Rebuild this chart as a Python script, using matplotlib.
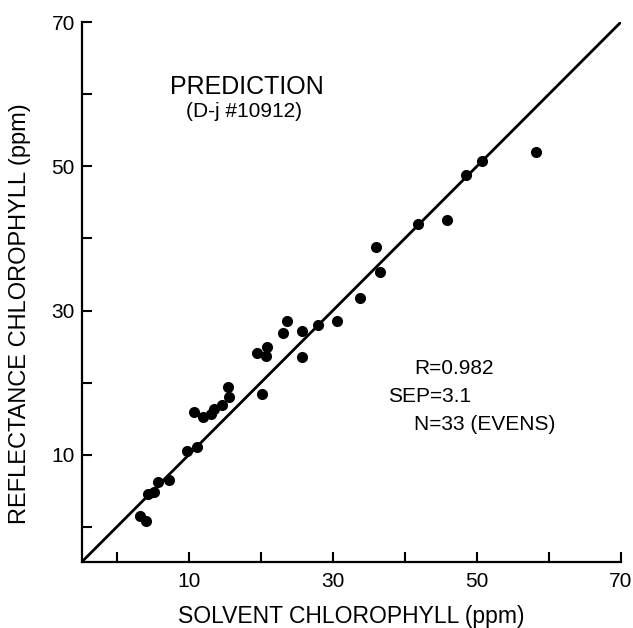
import matplotlib
matplotlib.use("Agg")
import matplotlib.pyplot as plt

plt.rcParams['font.family'] = ['Liberation Sans', 'DejaVu Sans']

# solvent vs reflectance chlorophyll (ppm)
solvent = [3.2, 4.1, 4.4, 5.2, 5.8, 7.2, 9.7, 11.1, 10.7, 12.0, 13.1,
           13.5, 14.6, 15.6, 15.5, 20.2, 19.5, 20.8, 20.7, 23.1, 23.7,
           25.7, 25.7, 28.0, 30.6, 33.8, 36.0, 36.5, 41.8, 45.8, 48.5,
           50.7, 58.2]
reflectance = [1.5, 0.8, 4.6, 4.9, 6.2, 6.5, 10.5, 11.1, 16.0, 15.2, 15.6,
               16.4, 16.9, 18.0, 19.4, 18.4, 24.1, 24.9, 23.7, 26.9, 28.6,
               27.1, 23.5, 28.0, 28.6, 31.8, 38.8, 35.4, 42.0, 42.5, 48.8,
               50.8, 52.0]

major_ticks = [10, 30, 50, 70]
minor_ticks = [0, 20, 40, 60]
axis_min, axis_max = -4.85, 70

W, H = 633, 628
fig = plt.figure(figsize=(W / 100, H / 100), dpi=100)
ax = fig.add_axes([81.7 / W, (H - 562) / H, 539.3 / W, 540 / H])

ax.scatter(solvent, reflectance, s=64, color='black', zorder=3, linewidths=0)
ax.axline((0, 0), slope=1, color='black', lw=2.0)

ax.set_xlim(axis_min, axis_max)
ax.set_ylim(axis_min, axis_max)
for axis in (ax.xaxis, ax.yaxis):
    axis.set_ticks(major_ticks)
    axis.set_ticks(minor_ticks, minor=True)
ax.tick_params(which='both', direction='in', length=7, width=1.5,
               labelsize=15, top=False, right=False)
ax.tick_params(axis='x', which='major', pad=7)
ax.tick_params(axis='y', which='major', pad=5)

ax.spines['top'].set_visible(False)
ax.spines['right'].set_visible(False)
ax.spines['left'].set_linewidth(1.6)
ax.spines['bottom'].set_linewidth(1.6)

# axis titles placed by hand (pixel centres)
fig.text(351 / W, (H - 616) / H, 'SOLVENT CHLOROPHYLL (ppm)',
         ha='center', va='center', fontsize=16.5)
fig.text(20 / W, (H - 314) / H, 'REFLECTANCE CHLOROPHYLL (ppm)',
         ha='center', va='center', rotation=90, fontsize=17)

ax.text((246.5 - 81.7) / 539.3, (562 - 86.7) / 540, 'PREDICTION',
        transform=ax.transAxes, ha='center', va='center', fontsize=18)
ax.text((244 - 81.7) / 539.3, (562 - 111.7) / 540, '(D-j #10912)',
        transform=ax.transAxes, ha='center', va='center', fontsize=15)

stats = [('R=0.982', 414, 368), ('SEP=3.1', 388, 397),
         ('N=33 (EVENS)', 414, 424)]
for label, px, py in stats:
    ax.text((px - 81.7) / 539.3, (562 - py) / 540, label,
            transform=ax.transAxes, ha='left', va='center', fontsize=15)

plt.savefig('out.png', dpi=100)
